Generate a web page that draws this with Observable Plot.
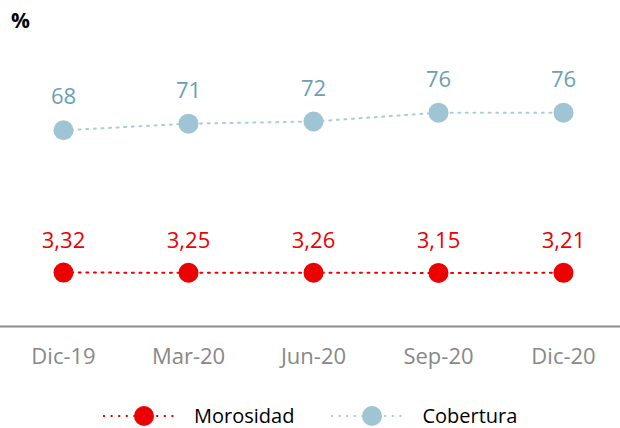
<!DOCTYPE html>
<html><head><meta charset="utf-8">
<script src="https://cdn.jsdelivr.net/npm/d3@7"></script>
<script src="https://cdn.jsdelivr.net/npm/@observablehq/plot@0.6"></script>
<style>
body{margin:0;background:#fff;font-family:"Open Sans",sans-serif;}
#wrap{position:relative;width:620px;height:428px;overflow:hidden;}
#unit{position:absolute;left:11px;top:8px;font-weight:bold;font-size:21px;color:#000;line-height:24px;}
#chart{position:absolute;left:0;top:0;}
#legend{position:absolute;left:103px;top:404px;display:flex;align-items:center;height:24px;font-size:20px;color:#000;white-space:nowrap;}
#legend .item{display:flex;align-items:center;margin-right:37px;}
#legend .lab{margin-left:17px;line-height:24px;}
</style></head>
<body>
<div id="wrap">
  <div id="chart"></div>
  <div id="unit">%</div>
  <div id="legend"></div>
</div>
<script>
const periods = ["Dic-19","Mar-20","Jun-20","Sep-20","Dic-20"];
const morosidad = [3.32,3.25,3.26,3.15,3.21];
const cobertura = [68,71,72,76,76];
const seriesNames = ["Morosidad","Cobertura"];

const red = "#EC0000";
const blueDot = "#9FC4D4";
const blueLine = "#A9CCDA";
const blueText = "#6A9FB8";

const fmt = v => d3.format(".2f")(v).replace(".", ",");
const morData = periods.map((p,i)=>({p, v: morosidad[i], t: fmt(morosidad[i])}));
const cobData = periods.map((p,i)=>({p, v: cobertura[i], t: String(cobertura[i])}));

const chart = Plot.plot({
  width: 620, height: 400,
  marginLeft: -1, marginRight: -7, marginTop: 59.4, marginBottom: 74,
  style: {fontFamily: "'Open Sans', sans-serif", background: "transparent"},
  x: {type: "point", domain: periods, padding: 0.5, axis: null},
  y: {domain: [-21.2, 100], axis: null},
  marks: [
    Plot.frame({anchor: "bottom", stroke: "#8c8c8c", strokeWidth: 2}),
    Plot.axisX({tickSize: 0, tickPadding: 22, fontSize: 22, fill: "#888", label: null}),
    Plot.line(cobData, {x: "p", y: "v", stroke: blueLine, strokeWidth: 2, strokeDasharray: "2,5.6"}),
    Plot.line(morData, {x: "p", y: "v", stroke: red, strokeWidth: 2, strokeDasharray: "2,5.6"}),
    Plot.dot(cobData, {x: "p", y: "v", r: 10, fill: blueDot}),
    Plot.dot(morData, {x: "p", y: "v", r: 10, fill: red}),
    Plot.text(cobData, {x: "p", y: "v", text: "t", dy: -33, fill: blueText, fontSize: 22}),
    Plot.text(morData, {x: "p", y: "v", text: "t", dy: -32, fill: red, fontSize: 22})
  ]
});
document.getElementById("chart").appendChild(chart);

const legendColors = [red, blueDot];
const legendLineColors = [red, blueLine];
const legend = d3.select("#legend");
seriesNames.forEach((name, i) => {
  const item = legend.append("div").attr("class", "item");
  const s = item.append("svg").attr("width", 74).attr("height", 24);
  s.append("line").attr("x1", 0).attr("x2", 74).attr("y1", 12).attr("y2", 12)
    .attr("stroke", legendLineColors[i]).attr("stroke-width", 2).attr("stroke-dasharray", "2,5.6");
  s.append("circle").attr("cx", 41).attr("cy", 12).attr("r", 10).attr("fill", legendColors[i]);
  item.append("span").attr("class", "lab").text(name);
});
</script>
</body></html>
